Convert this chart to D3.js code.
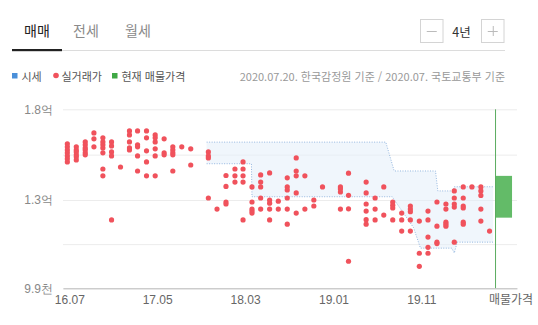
<!DOCTYPE html>
<html lang="ko">
<head>
<meta charset="utf-8">
<script src="https://cdn.jsdelivr.net/npm/d3@7"></script>
<style>
  html, body { margin: 0; padding: 0; background: #fff; }
  svg { display: block; font-family: "Noto Sans CJK KR", "Noto Sans", sans-serif; }
</style>
</head>
<body>
<svg id="chart" width="538" height="325"></svg>
<script>
// Header / legend texts
const tabs = ["매매", "전세", "월세"];
const periodLabel = "4년";
const legendLabels = ["시세", "실거래가", "현재 매물가격"];
const sourceNote = "2020.07.20. 한국감정원 기준 / 2020.07. 국토교통부 기준";

// Axis ticks
const xTicks = ["2016-07", "2017-05", "2018-03", "2019-01", "2019-11"];
const yTicks = [9900, 13000, 18000];
const yGrid = [9900, 11450, 13000, 15500, 18000];

// 실거래가 (만원), one list per contract month
const tradeMonths = [
  "2016-07", "2016-08", "2016-09", "2016-10", "2016-11", "2016-12",
  "2017-01", "2017-02", "2017-03", "2017-04", "2017-05", "2017-06",
  "2017-07", "2017-08", "2017-09", "2017-11", "2017-12",
  "2018-01", "2018-02", "2018-03", "2018-04", "2018-05", "2018-06",
  "2018-07", "2018-08", "2018-09", "2018-10", "2018-11", "2018-12",
  "2019-02", "2019-03", "2019-05", "2019-06", "2019-07", "2019-08",
  "2019-09", "2019-10", "2019-11", "2019-12",
  "2020-01", "2020-02", "2020-03", "2020-04", "2020-05", "2020-06", "2020-07"
];
const tradePrices = [
  [16100, 15930, 15760, 15600, 15430, 15270, 15100],
  [15930, 15760, 15650, 15490, 15380, 15210],
  [16200, 16040, 15870, 15760, 15600, 15490],
  [16700, 16370, 15930],
  [16430, 16200, 16040, 15870, 15600, 14710, 14330],
  [16200, 15980, 15650, 15430, 12300],
  [14820],
  [16810, 16590, 16200, 15870, 15760],
  [16810, 16040, 15930, 15430, 14600],
  [16810, 16430, 15710, 15100, 14330],
  [16590, 16430, 16200, 15820, 15430, 14330],
  [16370, 15600, 15490],
  [15930, 15760, 15600, 15490, 14600],
  [15930],
  [15820, 14930],
  [15650, 15430, 15320, 13110],
  [12680],
  [14350, 13750, 12930, 12860],
  [14710, 14330, 13990],
  [15100, 14710, 14330, 13990, 12300],
  [13720, 12930, 12680, 12610, 12540],
  [14380, 13990, 13720, 13110, 12680],
  [14490, 13000, 12890, 12680, 12300],
  [12960, 12680],
  [14220, 13720, 13550, 13110, 12680, 12150],
  [15320, 14600, 14330, 13390, 12540],
  [14330, 12680],
  [13000, 12790],
  [13720],
  [13720, 13610, 13440, 12680],
  [14480, 13260, 12690, 10850],
  [13990, 13390, 12860, 12610, 12310, 12150],
  [13110, 12680, 12300],
  [13720, 12470],
  [12930, 12820, 12720, 12300],
  [12540, 12300, 11910],
  [12790, 12680, 12590, 12300, 11910],
  [12260, 11130, 10670],
  [12610, 12300, 11700, 11340, 11130],
  [12930, 12080, 11520, 11470],
  [12860, 12680, 12220, 12150, 12080],
  [13500, 13110, 12860, 12750, 11520],
  [13720, 13110, 12790, 12720, 12220, 12150],
  [13720],
  [13720, 13500, 13250, 12680, 12260],
  [11910]
];

// 시세 band (만원): upper / lower bound
const bandUpperDates = ["2017-10-26", "2019-07-08", "2019-08-06", "2019-12-27", "2020-01-04", "2020-02-25", "2020-03-01", "2020-07-13"];
const bandUpperValues = [16190, 16190, 14600, 14600, 13500, 13500, 13730, 13730];
const bandLowerDates = ["2017-10-26", "2018-03-30", "2018-04-01", "2019-07-30", "2019-10-12", "2019-11-05", "2020-02-21", "2020-03-01", "2020-03-11", "2020-07-13"];
const bandLowerValues = [15000, 15000, 13180, 13180, 12030, 11310, 11310, 11140, 11520, 11520];

// 현재 매물가격
const listingDate = "2020-07-20";
const listingRange = [12380, 14330];
const listingLabel = "매물가격";

const svg = d3.select("#chart");
const width = 538;

const parseMonth = d3.timeParse("%Y-%m");
const parseDay = d3.timeParse("%Y-%m-%d");

// Scales
const plot = { left: 63, right: 517, top: 109.3, bottom: 288.3 };
const x = d3.scaleTime()
  .domain([parseDay("2016-06-16"), parseDay("2020-10-04")])
  .range([plot.left, plot.right]);
// piecewise: the original axis is not evenly spaced
const y = d3.scaleLinear()
  .domain([9900, 13000, 18000])
  .range([plot.bottom, 200, plot.top]);

// # Header tabs
const tabX = [24, 73, 125];
svg.append("g").selectAll("text")
  .data(tabs)
  .join("text")
  .attr("x", (d, i) => tabX[i])
  .attr("y", 30)
  .attr("dominant-baseline", "central")
  .style("font-size", "14px")
  .style("fill", (d, i) => i == 0 ? "#222" : "#8a8a8a")
  .text(d => d);

svg.append("line")
  .attr("x1", 62).attr("x2", 505)
  .attr("y1", 50.5).attr("y2", 50.5)
  .style("stroke", "#dcdcdc");
svg.append("rect")
  .attr("x", 12).attr("y", 49)
  .attr("width", 50).attr("height", 2.2)
  .style("fill", "#222");

// Period stepper
const stepper = svg.append("g");
[420.5, 481.5].forEach((bx, i) => {
  stepper.append("rect")
    .attr("x", bx).attr("y", 19.5)
    .attr("width", 22.5).attr("height", 23)
    .style("fill", "#fff")
    .style("stroke", "#d4d4d4");
  const cx = bx + 11.25, cy = 31;
  stepper.append("line")
    .attr("x1", cx - 5).attr("x2", cx + 5)
    .attr("y1", cy + 0.5).attr("y2", cy + 0.5)
    .style("stroke", "#bbb");
  if (i == 1) {
    stepper.append("line")
      .attr("x1", cx + 0.5).attr("x2", cx + 0.5)
      .attr("y1", cy - 5).attr("y2", cy + 5)
      .style("stroke", "#bbb");
  }
});
stepper.append("text")
  .attr("x", 461.5).attr("y", 31)
  .attr("text-anchor", "middle")
  .attr("dominant-baseline", "central")
  .style("font-size", "12.5px")
  .style("fill", "#333")
  .text(periodLabel);

// # Legend
const legend = svg.append("g").style("font-size", "11px");
const legendColors = ["#4a8fd9", "#f0525c", "#3fa845"];
const legendX = [12, 53, 112];
legendLabels.forEach((label, i) => {
  if (i == 1) {
    legend.append("circle")
      .attr("cx", legendX[i] + 3).attr("cy", 75.5).attr("r", 2.8)
      .style("fill", legendColors[i]);
  } else {
    legend.append("rect")
      .attr("x", legendX[i]).attr("y", 73)
      .attr("width", 5.5).attr("height", 5.5)
      .style("fill", legendColors[i]);
  }
  legend.append("text")
    .attr("x", legendX[i] + (i == 1 ? 8.5 : 9.5))
    .attr("y", 75.5)
    .attr("dominant-baseline", "central")
    .style("fill", "#555")
    .text(label);
});
legend.append("text")
  .attr("x", 505).attr("y", 75.5)
  .attr("text-anchor", "end")
  .attr("dominant-baseline", "central")
  .style("fill", "#999")
  .text(sourceNote);

// # Grid
svg.append("g").selectAll("line")
  .data(yGrid)
  .join("line")
  .attr("x1", plot.left).attr("x2", plot.right)
  .attr("y1", d => y(d) + 0.5).attr("y2", d => y(d) + 0.5)
  .style("stroke", "#ececec");

// # 시세 band
const upper = bandUpperDates.map((d, i) => [x(parseDay(d)), y(bandUpperValues[i])]);
const lower = bandLowerDates.map((d, i) => [x(parseDay(d)), y(bandLowerValues[i])]);
const line = d3.line();

svg.append("path")
  .attr("d", line(upper.concat(lower.slice().reverse())) + "Z")
  .style("fill", "#e4eefa")
  .style("fill-opacity", 0.55);

svg.append("g").selectAll("path")
  .data([upper, lower])
  .join("path")
  .attr("d", d => line(d))
  .style("fill", "none")
  .style("stroke", "#93b6df")
  .style("stroke-width", 1)
  .style("stroke-dasharray", "1,1.5");

// # 실거래가 dots
const trades = [];
tradeMonths.forEach((m, i) => {
  tradePrices[i].forEach(p => trades.push({ date: parseMonth(m), price: p }));
});

svg.append("g").selectAll("circle")
  .data(trades)
  .join("circle")
  .attr("cx", d => x(d.date))
  .attr("cy", d => y(d.price))
  .attr("r", 2.6)
  .style("fill", "#f0525c");

// # 현재 매물가격
const lx = x(parseDay(listingDate));
svg.append("rect")
  .attr("x", lx)
  .attr("y", y(listingRange[1]))
  .attr("width", 17)
  .attr("height", y(listingRange[0]) - y(listingRange[1]))
  .style("fill", "#63bb68");
svg.append("line")
  .attr("x1", lx + 0.5).attr("x2", lx + 0.5)
  .attr("y1", plot.top).attr("y2", plot.bottom)
  .style("stroke", "#5aac5f");

// # Axes
const xAxis = svg.append("g")
  .attr("transform", `translate(0, ${plot.bottom})`)
  .call(d3.axisBottom(x)
    .tickValues(xTicks.map(parseMonth))
    .tickFormat(d3.timeFormat("%y.%m"))
    .tickSize(0)
    .tickPadding(7));
xAxis.select(".domain").style("stroke", "#bdbdbd");
xAxis.selectAll("text")
  .attr("dx", "2")
  .style("font-family", "inherit")
  .style("font-size", "12px")
  .style("fill", "#666");

svg.append("text")
  .attr("x", lx + 16)
  .attr("y", plot.bottom + 7)
  .attr("dy", "0.71em")
  .attr("text-anchor", "middle")
  .style("font-size", "12px")
  .style("fill", "#666")
  .text(listingLabel);

const yAxis = svg.append("g")
  .attr("transform", "translate(57, 0)")
  .call(d3.axisLeft(y)
    .tickValues(yTicks)
    .tickFormat(d => d >= 10000 ? (d / 10000).toFixed(1) + "억" : (d / 1000).toFixed(1) + "천")
    .tickSize(0)
    .tickPadding(4));
yAxis.select(".domain").remove();
yAxis.selectAll("text")
  .style("font-family", "inherit")
  .style("font-size", "12px")
  .style("fill", "#888");
</script>
</body>
</html>
